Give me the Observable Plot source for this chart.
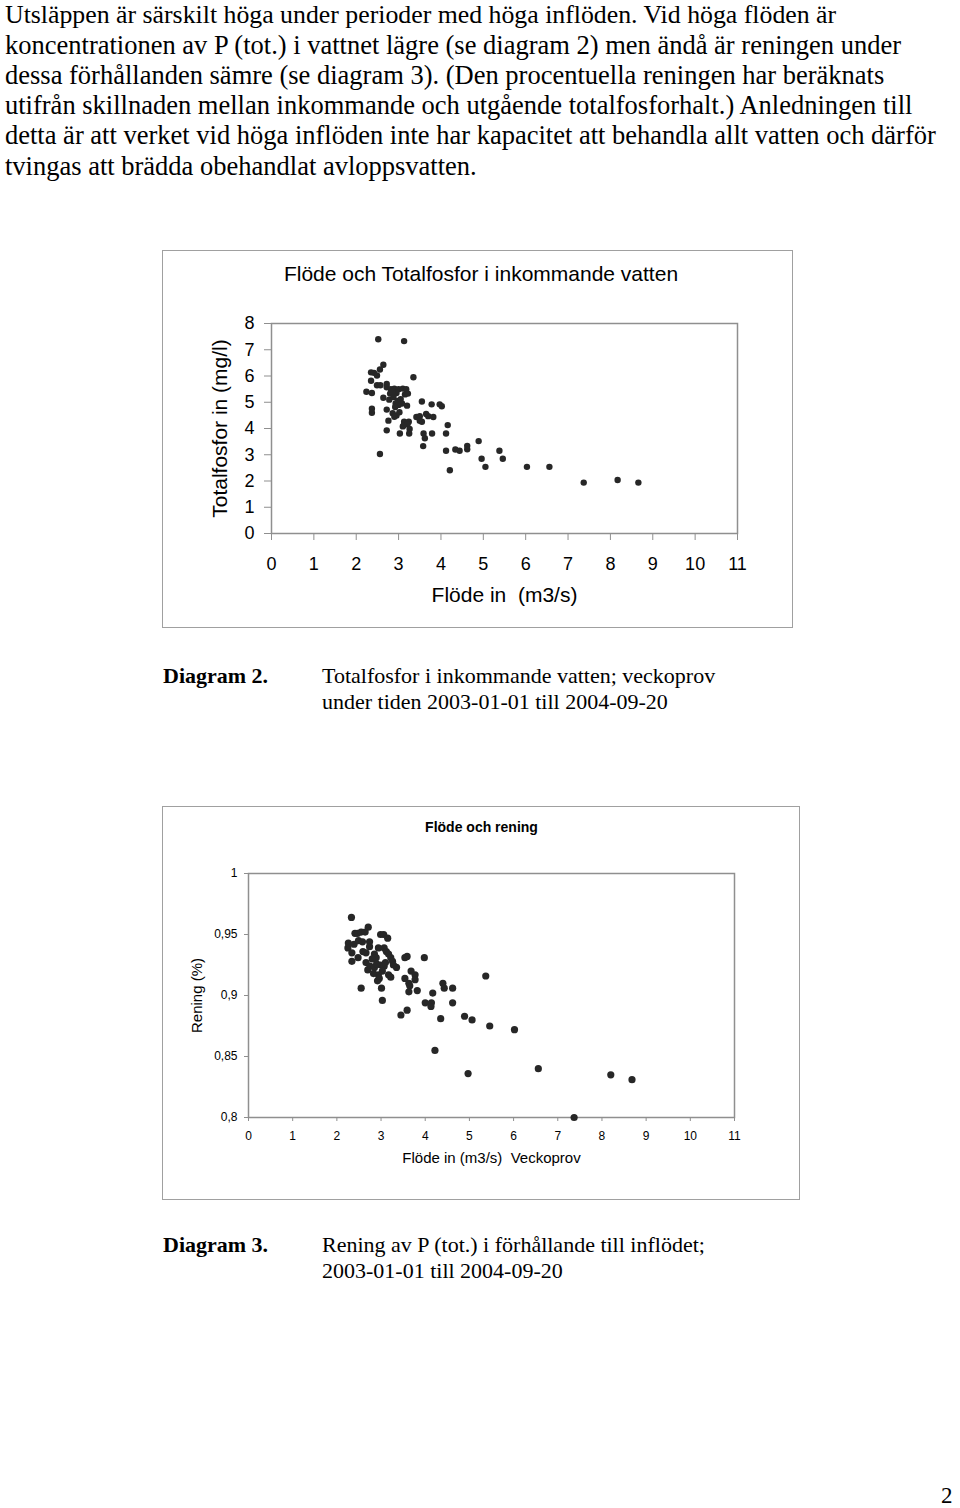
<!DOCTYPE html>
<html>
<head>
<meta charset="utf-8">
<script src="https://cdn.jsdelivr.net/npm/d3@7"></script>
<script src="https://cdn.jsdelivr.net/npm/@observablehq/plot@0.6"></script>
<style>
  html, body { margin: 0; padding: 0; background: #fff; }
  #page { position: relative; width: 960px; height: 1508px; overflow: hidden; background: #fff; color: #000; }
  .p { position: absolute; left: 5px; font-family: "Liberation Serif", "Times New Roman", serif; font-size: 26.5px; line-height: 30px; white-space: nowrap; }
  .cap { position: absolute; font-family: "Liberation Serif", "Times New Roman", serif; font-size: 22px; line-height: 26px; white-space: nowrap; }
  .box { position: absolute; border: 1px solid #a0a0a0; box-sizing: border-box; }
  .box svg { position: absolute; left: 0; top: 0; }
  .title { position: absolute; left: 0; width: 100%; text-align: center; font-family: "Liberation Sans", Arial, sans-serif; white-space: nowrap; }
</style>
</head>
<body>
<div id="page">
  <div class="p" style="top:0px; font-size:25.8px;">Utsläppen är särskilt höga under perioder med höga inflöden. Vid höga flöden är</div>
  <div class="p" style="top:30px">koncentrationen av P (tot.) i vattnet lägre (se diagram 2) men ändå är reningen under</div>
  <div class="p" style="top:60px">dessa förhållanden sämre (se diagram 3). (Den procentuella reningen har beräknats</div>
  <div class="p" style="top:90px">utifrån skillnaden mellan inkommande och utgående totalfosforhalt.) Anledningen till</div>
  <div class="p" style="top:120px">detta är att verket vid höga inflöden inte har kapacitet att behandla allt vatten och därför</div>
  <div class="p" style="top:151px">tvingas att brädda obehandlat avloppsvatten.</div>

  <div class="box" id="box1" style="left:162px; top:250px; width:631px; height:378px;">
    <div class="title" style="top:11px; font-size:21px; line-height:24px; padding-left:7px; box-sizing:border-box;">Flöde och Totalfosfor i inkommande vatten</div>
  </div>

  <div class="cap" style="left:163px; top:663px; font-weight:bold;">Diagram 2.</div>
  <div class="cap" style="left:322px; top:663px;">Totalfosfor i inkommande vatten; veckoprov</div>
  <div class="cap" style="left:322px; top:689px;">under tiden 2003-01-01 till 2004-09-20</div>

  <div class="box" id="box2" style="left:162px; top:806px; width:638px; height:394px;">
    <div class="title" style="top:11px; font-size:14px; line-height:18px; font-weight:bold; padding-left:1px; box-sizing:border-box;">Flöde och rening</div>
  </div>

  <div class="cap" style="left:163px; top:1232px; font-weight:bold;">Diagram 3.</div>
  <div class="cap" style="left:322px; top:1232px;">Rening av P (tot.) i förhållande till inflödet;</div>
  <div class="cap" style="left:322px; top:1258px;">2003-01-01 till 2004-09-20</div>

  <div class="p" style="left:941px; top:1484px; font-size:23px; line-height:24px;">2</div>
</div>

<script>
// ---------- Diagram 2: Flöde och Totalfosfor i inkommande vatten ----------
const flowIn1 = [2.52, 3.13, 2.64, 2.56, 2.35, 2.42, 2.49, 3.35, 2.35, 2.49, 2.57, 2.72, 2.72, 2.24, 2.37, 2.64,
  2.82, 2.90, 3.00, 3.10, 3.18, 2.80, 2.95, 3.15, 3.22, 2.78, 2.88, 2.98, 3.05, 2.93, 3.00, 3.20, 2.92,
  3.55, 3.78, 3.97, 4.02, 2.37, 2.37, 2.72, 2.86, 2.95, 3.02, 2.90, 3.42, 3.50, 3.55, 3.65, 3.70, 3.82,
  2.76, 3.13, 3.24, 3.10, 3.21, 3.26, 2.72, 3.03, 3.25, 3.59, 3.79, 3.62, 4.12, 4.16, 3.58, 2.56, 4.12,
  4.34, 4.44, 4.62, 4.62, 4.89, 4.96, 5.05, 5.38, 5.46, 4.21, 6.03, 6.56, 7.37, 8.17, 8.66,
  3.08, 2.85, 3.12, 3.50];
const totP = [7.40, 7.33, 6.43, 6.25, 6.14, 6.12, 6.02, 5.95, 5.82, 5.65, 5.65, 5.70, 5.57, 5.40, 5.35, 5.17,
  5.50, 5.52, 5.50, 5.52, 5.50, 5.33, 5.35, 5.30, 5.33, 5.10, 5.20, 5.05, 5.12, 4.95, 4.90, 4.87, 4.82,
  5.03, 4.92, 4.92, 4.85, 4.75, 4.60, 4.72, 4.58, 4.50, 4.62, 4.45, 4.44, 4.47, 4.26, 4.55, 4.47, 4.44,
  4.30, 4.26, 4.26, 4.08, 4.16, 3.98, 3.93, 3.81, 3.81, 3.81, 3.81, 3.63, 3.81, 4.13, 3.33, 3.03, 3.15,
  3.20, 3.15, 3.34, 3.21, 3.52, 2.85, 2.54, 3.15, 2.85, 2.41, 2.54, 2.54, 1.94, 2.04, 1.94,
  4.95, 5.40, 4.12, 4.30];
const xTicks1 = [0, 1, 2, 3, 4, 5, 6, 7, 8, 9, 10, 11];
const yTicks1 = [0, 1, 2, 3, 4, 5, 6, 7, 8];
const xLabel1 = "Flöde in  (m3/s)";
const yLabel1 = "Totalfosfor in (mg/l)";

// ---------- Diagram 3: Flöde och rening ----------
const flowIn2 = [2.33, 2.71, 2.41, 2.47, 2.55, 2.64, 2.99, 3.06, 3.15, 2.26, 2.25, 2.39, 2.49, 2.74, 2.74, 3.07,
  3.12, 2.34, 2.34, 2.59, 2.66, 2.48, 2.85, 2.94, 2.89, 3.17, 3.22, 3.26, 2.66, 2.75, 2.85, 2.99, 3.07,
  3.35, 3.54, 3.59, 3.98, 2.94, 3.03, 3.17, 3.22, 3.54, 3.63, 3.65, 3.68, 3.77, 3.77, 2.92, 2.55, 3.01,
  3.63, 3.82, 3.03, 3.45, 3.59, 4.00, 4.14, 4.13, 4.17, 4.40, 4.43, 4.62, 4.62, 5.37, 4.35, 4.89, 5.06,
  5.46, 6.02, 4.22, 4.97, 6.56, 7.37, 8.20, 8.68,
  2.80, 2.70, 2.90, 3.10, 3.28, 2.58, 2.83, 2.96];
const rening = [0.964, 0.956, 0.951, 0.951, 0.952, 0.952, 0.950, 0.950, 0.947, 0.943, 0.939, 0.942, 0.945, 0.944, 0.940, 0.939,
  0.936, 0.935, 0.928, 0.936, 0.935, 0.931, 0.934, 0.939, 0.931, 0.934, 0.931, 0.928, 0.927, 0.924, 0.923, 0.925, 0.924,
  0.923, 0.931, 0.932, 0.931, 0.917, 0.920, 0.917, 0.915, 0.914, 0.910, 0.908, 0.920, 0.917, 0.913, 0.912, 0.906, 0.906,
  0.903, 0.904, 0.896, 0.884, 0.888, 0.894, 0.894, 0.891, 0.902, 0.910, 0.906, 0.906, 0.894, 0.916, 0.881, 0.883, 0.880,
  0.875, 0.872, 0.855, 0.836, 0.840, 0.800, 0.835, 0.831,
  0.930, 0.921, 0.926, 0.927, 0.925, 0.944, 0.918, 0.914];
const xTicks2 = [0, 1, 2, 3, 4, 5, 6, 7, 8, 9, 10, 11];
const yTicks2 = [0.8, 0.85, 0.9, 0.95, 1];
const xLabel2 = "Flöde in (m3/s)  Veckoprov";
const yLabel2 = "Rening (%)";

const data1 = flowIn1.map((x, i) => ({x, y: totP[i]}));
const data2 = flowIn2.map((x, i) => ({x, y: rening[i]}));

const gray = "#8f8f8f";
const dotFill = "#272727";

const chart1 = Plot.plot({
  width: 629, height: 376,
  marginLeft: 108, marginRight: 55, marginTop: 72, marginBottom: 94,
  style: {fontFamily: "'Liberation Sans', Arial, sans-serif", fontSize: "18px", background: "transparent", color: "#000", overflow: "visible"},
  x: {domain: [0, 11]},
  y: {domain: [0, 8]},
  marks: [
    Plot.frame({stroke: gray, strokeWidth: 1.5}),
    Plot.axisX({ticks: xTicks1, tickSize: 7, tickPadding: 17, stroke: gray, fill: "#000", fontSize: 18, label: null}),
    Plot.axisY({ticks: yTicks1, tickSize: 7, tickPadding: 10, stroke: gray, fill: "#000", fontSize: 18, label: null}),
    Plot.text([xLabel1], {text: d => d, frameAnchor: "bottom", textAnchor: "middle", dy: 68, fontSize: 21, fill: "#000"}),
    Plot.text([yLabel1], {text: d => d, frameAnchor: "left", textAnchor: "middle", dx: -51, rotate: -90, fontSize: 21, fill: "#000"}),
    Plot.dot(data1, {x: "x", y: "y", r: 3.2, fill: dotFill, stroke: "none"})
  ]
});
document.getElementById("box1").appendChild(chart1);

const fmt = d => d === 1 ? "1" : String(d).replace(".", ",");
const chart2 = Plot.plot({
  width: 636, height: 392,
  marginLeft: 85, marginRight: 65, marginTop: 66, marginBottom: 82,
  style: {fontFamily: "'Liberation Sans', Arial, sans-serif", fontSize: "12px", background: "transparent", color: "#000", overflow: "visible"},
  x: {domain: [0, 11]},
  y: {domain: [0.8, 1]},
  marks: [
    Plot.frame({stroke: gray, strokeWidth: 1.5}),
    Plot.axisX({ticks: xTicks2, tickSize: 4, tickPadding: 10, stroke: gray, fill: "#000", fontSize: 12, label: null}),
    Plot.axisY({ticks: yTicks2, tickSize: 4, tickPadding: 7, tickFormat: fmt, stroke: gray, fill: "#000", fontSize: 12, label: null}),
    Plot.text([xLabel2], {text: d => d, frameAnchor: "bottom", textAnchor: "middle", dy: 45, fontSize: 15, fill: "#000"}),
    Plot.text([yLabel2], {text: d => d, frameAnchor: "left", textAnchor: "middle", dx: -51, rotate: -90, fontSize: 15, fill: "#000"}),
    Plot.dot(data2, {x: "x", y: "y", r: 3.6, fill: dotFill, stroke: "none"})
  ]
});
document.getElementById("box2").appendChild(chart2);
</script>
</body>
</html>
